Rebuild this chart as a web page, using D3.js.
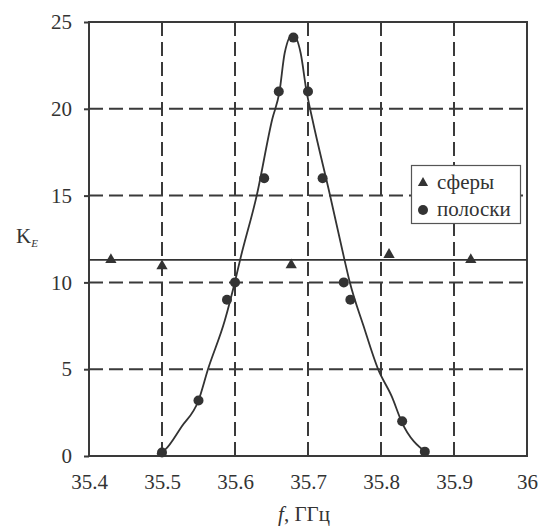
<!DOCTYPE html>
<html>
<head>
<meta charset="utf-8">
<script src="https://cdn.jsdelivr.net/npm/d3@7"></script>
</head>
<body style="margin:0">
<svg id="chart" width="539" height="526"></svg>
<script>
//

const xTicks = [35.4, 35.5, 35.6, 35.7, 35.8, 35.9, 36]
const yTicks = [0, 5, 10, 15, 20, 25]
const xGrid = [35.5, 35.6, 35.7, 35.8, 35.9]
const yGrid = [5, 10, 15, 20]

// сферы
const sphereF = [35.43, 35.50, 35.677, 35.811, 35.923]
const sphereK = [11.3, 10.95, 11.0, 11.6, 11.3]
const sphereLevel = 11.3

// полоски
const stripF = [35.50, 35.55, 35.589, 35.60, 35.64, 35.66, 35.68, 35.70, 35.72, 35.749, 35.758, 35.829, 35.86]
const stripK = [0.2, 3.2, 9.0, 10.0, 16.0, 21.0, 24.1, 21.0, 16.0, 10.0, 9.0, 2.0, 0.25]

// fitted curve
const fitF = [35.493, 35.504, 35.527, 35.55, 35.563, 35.586, 35.600, 35.607, 35.630, 35.651, 35.661, 35.668, 35.679, 35.690, 35.698, 35.706, 35.730, 35.750, 35.757, 35.776, 35.796, 35.815, 35.828, 35.862]
const fitK = [0.1, 0.35, 1.7, 3.2, 5.0, 7.8, 10.05, 11.3, 15.05, 19.4, 21.0, 23.2, 24.3, 23.2, 21.0, 19.4, 15.05, 11.3, 10.05, 7.5, 5.0, 3.4, 2.0, 0.2]

const legendLabels = ['сферы', 'полоски']

//

const ink = '#333'
const face = '"Liberation Serif", monospace'
const svg = d3.select('#chart')

const x = d3.scaleLinear()
  .domain([35.4, 36])
  .range([89, 527])

const y = d3.scaleLinear()
  .domain([0, 25])
  .range([456, 22])

// grid
svg.append('g')
  .selectAll('line')
  .data(xGrid)
  .join('line')
  .attr('x1', (d) => x(d))
  .attr('x2', (d) => x(d))
  .attr('y1', y(25))
  .attr('y2', y(0))
  .attr('stroke', '#3a3a3a')
  .attr('stroke-width', 2)
  .attr('stroke-dasharray', '14,6')

svg.append('g')
  .selectAll('line')
  .data(yGrid)
  .join('line')
  .attr('x1', x(35.4))
  .attr('x2', x(36))
  .attr('y1', (d) => y(d))
  .attr('y2', (d) => y(d))
  .attr('stroke', '#3a3a3a')
  .attr('stroke-width', 2)
  .attr('stroke-dasharray', '14,6')

// frame
svg.append('rect')
  .attr('x', x(35.4))
  .attr('y', y(25))
  .attr('width', x(36) - x(35.4))
  .attr('height', y(0) - y(25))
  .attr('fill', 'none')
  .attr('stroke', '#3a3a3a')
  .attr('stroke-width', 2)

// axes
const xAxis = d3.axisBottom(x)
  .tickValues(xTicks)
  .tickFormat((d) => String(d))
  .tickSize(0)
  .tickPadding(18)

const yAxis = d3.axisLeft(y)
  .tickValues(yTicks)
  .tickSize(5)
  .tickPadding(12)

svg.append('g')
  .attr('transform', `translate(0,${y(0)})`)
  .call(xAxis)
  .attr('font-family', null)
  .attr('font-size', null)
  .call((g) => g.select('.domain').remove())
  .call((g) => g.selectAll('text')
    .attr('fill', ink)
    .attr('font-size', 21)
    .style('font-family', face))

svg.append('g')
  .attr('transform', `translate(${x(35.4)},0)`)
  .call(yAxis)
  .attr('font-family', null)
  .attr('font-size', null)
  .call((g) => g.select('.domain').remove())
  .call((g) => g.selectAll('line').attr('stroke', '#3a3a3a').attr('stroke-width', 2))
  .call((g) => g.selectAll('text')
    .attr('fill', ink)
    .attr('font-size', 21)
    .style('font-family', face))

// level of spheres
svg.append('line')
  .attr('x1', x(35.4))
  .attr('x2', x(36))
  .attr('y1', y(sphereLevel))
  .attr('y2', y(sphereLevel))
  .attr('stroke', ink)
  .attr('stroke-width', 1.6)

// fitted curve
const line = d3.line()
  .x((d, i) => x(fitF[i]))
  .y((d) => y(d))
  .curve(d3.curveMonotoneX)

svg.append('path')
  .datum(fitK)
  .attr('d', line)
  .attr('fill', 'none')
  .attr('stroke', ink)
  .attr('stroke-width', 1.8)

// markers
const tri = d3.symbol().type(d3.symbolTriangle).size(55)

svg.append('g')
  .selectAll('path')
  .data(sphereK)
  .join('path')
  .attr('transform', (d, i) => `translate(${x(sphereF[i])},${y(d)})`)
  .attr('d', tri)
  .attr('fill', ink)

svg.append('g')
  .selectAll('circle')
  .data(stripK)
  .join('circle')
  .attr('cx', (d, i) => x(stripF[i]))
  .attr('cy', (d) => y(d))
  .attr('r', 5)
  .attr('fill', ink)

// legend
const legend = svg.append('g')

legend.append('rect')
  .attr('x', 411.5)
  .attr('y', 165.5)
  .attr('width', 109)
  .attr('height', 58)
  .attr('fill', '#fff')
  .attr('stroke', '#555')
  .attr('stroke-width', 1.2)

legend.append('path')
  .attr('transform', 'translate(423,183)')
  .attr('d', d3.symbol().type(d3.symbolTriangle).size(45))
  .attr('fill', ink)

legend.append('circle')
  .attr('cx', 423)
  .attr('cy', 210)
  .attr('r', 5)
  .attr('fill', ink)

legend.selectAll('text')
  .data(legendLabels)
  .join('text')
  .attr('x', 437)
  .attr('y', (d, i) => 189 + i * 27)
  .attr('font-size', 21)
  .style('font-family', face)
  .attr('fill', ink)
  .text((d) => d)

// axis titles
const kLabel = svg.append('text')
  .attr('x', 16)
  .attr('y', 243)
  .attr('font-size', 21)
  .style('font-family', face)
  .attr('fill', ink)

kLabel.append('tspan').text('K')
kLabel.append('tspan')
  .attr('font-size', 11)
  .attr('font-style', 'italic')
  .attr('dy', 4)
  .text('E')

const fLabel = svg.append('text')
  .attr('x', 304)
  .attr('y', 521)
  .attr('text-anchor', 'middle')
  .attr('font-size', 21)
  .style('font-family', face)
  .attr('fill', ink)

fLabel.append('tspan').attr('font-style', 'italic').text('f')
fLabel.append('tspan').text(', ГГц')
</script>
</body>
</html>
